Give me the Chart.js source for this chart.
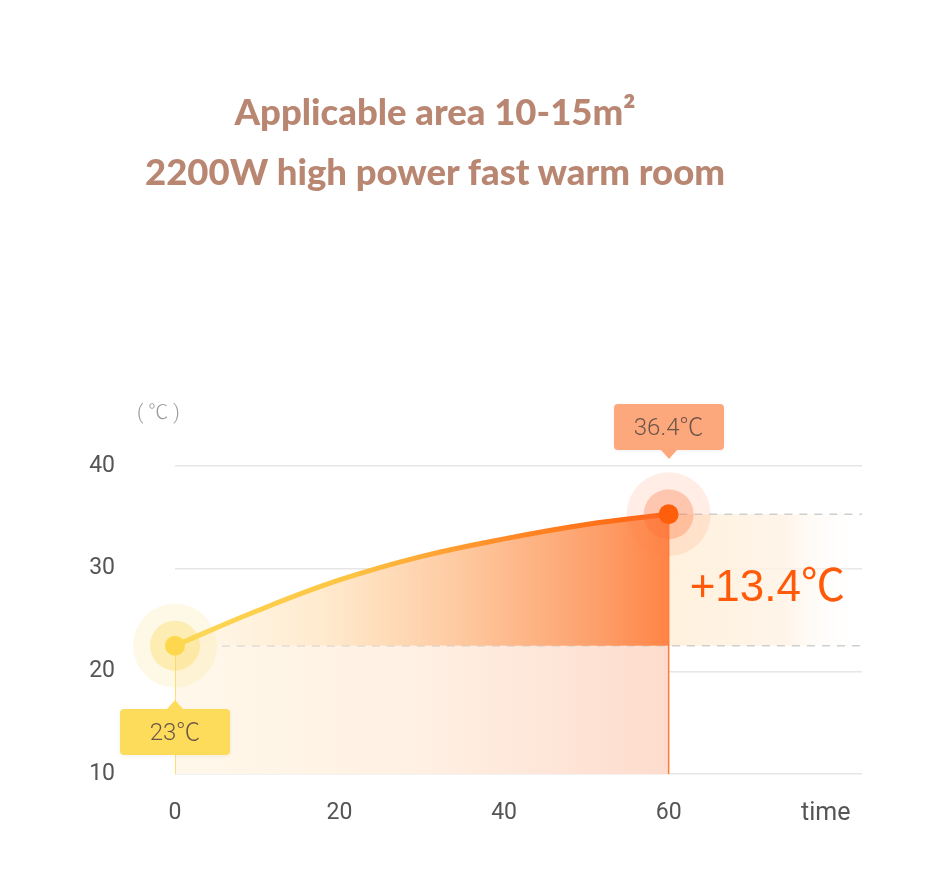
<!DOCTYPE html>
<html>
<head>
<meta charset="utf-8">
<script src="https://cdn.jsdelivr.net/npm/chart.js@4.4.1/dist/chart.umd.min.js"></script>
<style>
  body { margin: 0; background: #fff; }
  #wrap { position: relative; width: 950px; height: 895px; overflow: hidden; }
  #myChart { position: absolute; left: 0; top: 0; }
  .title { position: absolute; left: 0; width: 870px; text-align: center;
    font-family: Lato, "Open Sans", sans-serif; font-weight: 900; font-size: 36.5px; color: #b98672; }
  .unit { position: absolute; font-family: Roboto, "Noto Sans CJK SC", sans-serif; font-weight: 300; font-size: 20px; color: #999; }
  .tip { position: absolute; width: 110px; height: 46px; border-radius: 4px; line-height: 46px;
    text-align: center; font-family: Roboto, "Noto Sans CJK SC", sans-serif; font-weight: 300; font-size: 24px; color: #6b5548;
    box-shadow: 0 1px 4px rgba(0,0,0,0.06); }
  .tip:after { content: ''; position: absolute; left: 47px; border-left: 8px solid transparent; border-right: 8px solid transparent; }
  #tipEnd { background: #fda77c; }
  #tipEnd:after { top: 46px; border-top: 9px solid #fda77c; }
  #tipStart { background: #fddc5c; }
  #tipStart:after { top: -9px; border-bottom: 9px solid #fddc5c; }
  #rise { position: absolute; font-family: "Liberation Sans", "Noto Sans CJK SC", Arial, sans-serif; font-size: 44px; color: #ff5a0a;
    transform: translate(-50%, -50%); white-space: nowrap; }
</style>
</head>
<body>
<div id="wrap">
  <canvas id="myChart" width="950" height="895"></canvas>
  <div class="title" style="top:89px">Applicable area 10-15m²</div>
  <div class="title" style="top:149px">2200W high power fast warm room</div>
  <div class="unit" id="unit">( ℃ )</div>
  <div class="tip" id="tipEnd"></div>
  <div class="tip" id="tipStart"></div>
  <div id="rise"></div>
</div>
<script>
// dati
var tempo = [0, 10, 20, 30, 40, 50, 60];
var temperatura = [22.5, 25.9, 28.9, 31.2, 32.9, 34.3, 35.3];
var tickTempo = [0, 20, 40, 60];
var tickTemp = [10, 20, 30, 40];
var xMax = 83.5;
var tempoLabel = 'time';
var tempoLabelPos = 79.1;
var labelInizio = '23℃';
var labelFine = '36.4℃';
var labelAumento = '+13.4℃';

var t0 = tempo[0], tFine = tempo[tempo.length - 1];
var yInizio = temperatura[0], yFine = temperatura[temperatura.length - 1];

function gradX(chart, from, to, stops) {
  var area = chart.chartArea;
  if (!area) return null;
  var x = chart.scales.x;
  var g = chart.ctx.createLinearGradient(x.getPixelForValue(from), 0, x.getPixelForValue(to), 0);
  stops.forEach(function (s) { g.addColorStop(s[0], s[1]); });
  return g;
}

var punti = tempo.map(function (t, i) { return { x: t, y: temperatura[i] }; });
var estremi = [{ x: t0, y: yInizio }, { x: tFine, y: yFine }];

var etichette = {
  id: 'etichette',
  afterRender: function (chart) {
    var x = chart.scales.x, y = chart.scales.y;
    var px1 = x.getPixelForValue(tFine), py1 = y.getPixelForValue(yFine);
    var px0 = x.getPixelForValue(t0), py0 = y.getPixelForValue(yInizio);
    var e = document.getElementById('tipEnd');
    e.textContent = labelFine;
    e.style.left = (px1 - 55) + 'px';
    e.style.top = (py1 - 110) + 'px';
    var s = document.getElementById('tipStart');
    s.textContent = labelInizio;
    s.style.left = (px0 - 55) + 'px';
    s.style.top = (py0 + 63) + 'px';
    var r = document.getElementById('rise');
    r.textContent = labelAumento;
    r.style.left = (x.getPixelForValue((tFine + xMax) / 2) + 2) + 'px';
    r.style.top = (y.getPixelForValue((yFine + yInizio) / 2) + 2) + 'px';
    var u = document.getElementById('unit');
    u.style.left = '137px';
    u.style.top = (y.getPixelForValue(40) - 70) + 'px';
  }
};

var ctx = document.getElementById('myChart');
var myChart = new Chart(ctx, {
  type: 'line',
  data: {
    datasets: [
      // punti e aloni
      {
        type: 'scatter', data: estremi, clip: false,
        pointRadius: 10,
        pointBackgroundColor: ['#fdd84f', '#ff5f0a'],
        pointBorderWidth: 0,
        order: 0
      },
      {
        type: 'scatter', data: estremi, clip: false,
        pointRadius: 25,
        pointBackgroundColor: ['rgba(252,214,80,0.35)', 'rgba(255,110,50,0.30)'],
        pointBorderWidth: 0,
        order: 1
      },
      {
        type: 'scatter', data: estremi, clip: false,
        pointRadius: 42,
        pointBackgroundColor: ['rgba(252,222,110,0.17)', 'rgba(255,130,80,0.14)'],
        pointBorderWidth: 0,
        order: 2
      },
      // curva
      {
        data: punti,
        tension: 0.4,
        borderWidth: 5,
        pointRadius: 0,
        borderColor: function (c) {
          return gradX(c.chart, t0, tFine, [[0, '#fdd955'], [0.35, '#fdc443'], [0.65, '#ff8e2a'], [1, '#ff5e0c']]);
        },
        fill: { value: yInizio },
        backgroundColor: function (c) {
          return gradX(c.chart, t0, tFine, [[0, 'rgba(255,246,228,0.7)'], [0.3, 'rgba(255,232,200,0.9)'], [0.6, '#fec69c'], [0.85, '#fda06b'], [1, '#ff8445']]);
        },
        order: 3
      },
      // linee verticali
      {
        data: [{ x: tFine, y: yFine }, { x: tFine, y: tickTemp[0] }],
        borderColor: '#ff7a33', borderWidth: 1.5, pointRadius: 0, fill: false, order: 4
      },
      {
        data: [{ x: t0, y: yInizio }, { x: t0, y: tickTemp[0] }],
        borderColor: '#fcdc6a', borderWidth: 1, pointRadius: 0, fill: false, order: 4
      },
      // tratteggi
      {
        data: [{ x: 61.3, y: yFine }, { x: xMax, y: yFine }],
        borderColor: '#cfcfcf', borderWidth: 1.5, borderDash: [8, 7], pointRadius: 0, fill: false, order: 5
      },
      {
        data: [{ x: 5.7, y: yInizio }, { x: xMax, y: yInizio }],
        borderColor: '#cfcfcf', borderWidth: 1.5, borderDash: [8, 7], pointRadius: 0, fill: false, order: 5
      },
      // fascia destra
      {
        data: [{ x: tFine, y: yFine }, { x: xMax, y: yFine }],
        borderWidth: 0, pointRadius: 0,
        fill: { value: yInizio },
        backgroundColor: function (c) {
          return gradX(c.chart, tFine, xMax, [[0, '#fff1dc'], [0.6, 'rgba(255,242,228,0.8)'], [1, 'rgba(255,255,255,0)']]);
        },
        order: 6
      },
      // area sotto
      {
        data: [{ x: t0, y: yInizio }, { x: tFine, y: yInizio }],
        borderWidth: 0, pointRadius: 0,
        fill: { value: tickTemp[0] },
        backgroundColor: function (c) {
          return gradX(c.chart, t0, tFine, [[0, '#fff8ea'], [0.5, '#fff0e3'], [1, '#fddccd']]);
        },
        order: 7
      }
    ]
  },
  options: {
    responsive: false,
    animation: false,
    events: [],
    layout: { padding: { left: 0, right: 88, top: 466, bottom: 0 } },
    plugins: { legend: { display: false }, tooltip: { enabled: false } },
    scales: {
      x: {
        type: 'linear',
        min: 0,
        max: xMax,
        grid: { display: false, drawTicks: false },
        border: { display: false },
        afterBuildTicks: function (scale) {
          scale.ticks = tickTempo.concat([tempoLabelPos]).map(function (v) { return { value: v }; });
        },
        afterFit: function (scale) { scale.height = 121; },
        ticks: {
          padding: 25,
          autoSkip: false,
          maxRotation: 0,
          color: '#555',
          font: function (c) {
            return c.tick && c.tick.value === tempoLabelPos ? { family: 'Roboto', size: 25 } : { family: 'Roboto', size: 23 };
          },
          callback: function (v) { return v === tempoLabelPos ? tempoLabel : v; }
        }
      },
      y: {
        min: 10,
        max: 40,
        afterBuildTicks: function (scale) {
          scale.ticks = tickTemp.map(function (v) { return { value: v }; });
        },
        afterFit: function (scale) { scale.width = 175; },
        grid: { color: '#e6e6e6', lineWidth: 1.5, drawTicks: false },
        border: { display: false },
        ticks: { padding: 60, color: '#555', font: { family: 'Roboto', size: 23 } }
      }
    }
  },
  plugins: [etichette]
});
</script>
</body>
</html>
